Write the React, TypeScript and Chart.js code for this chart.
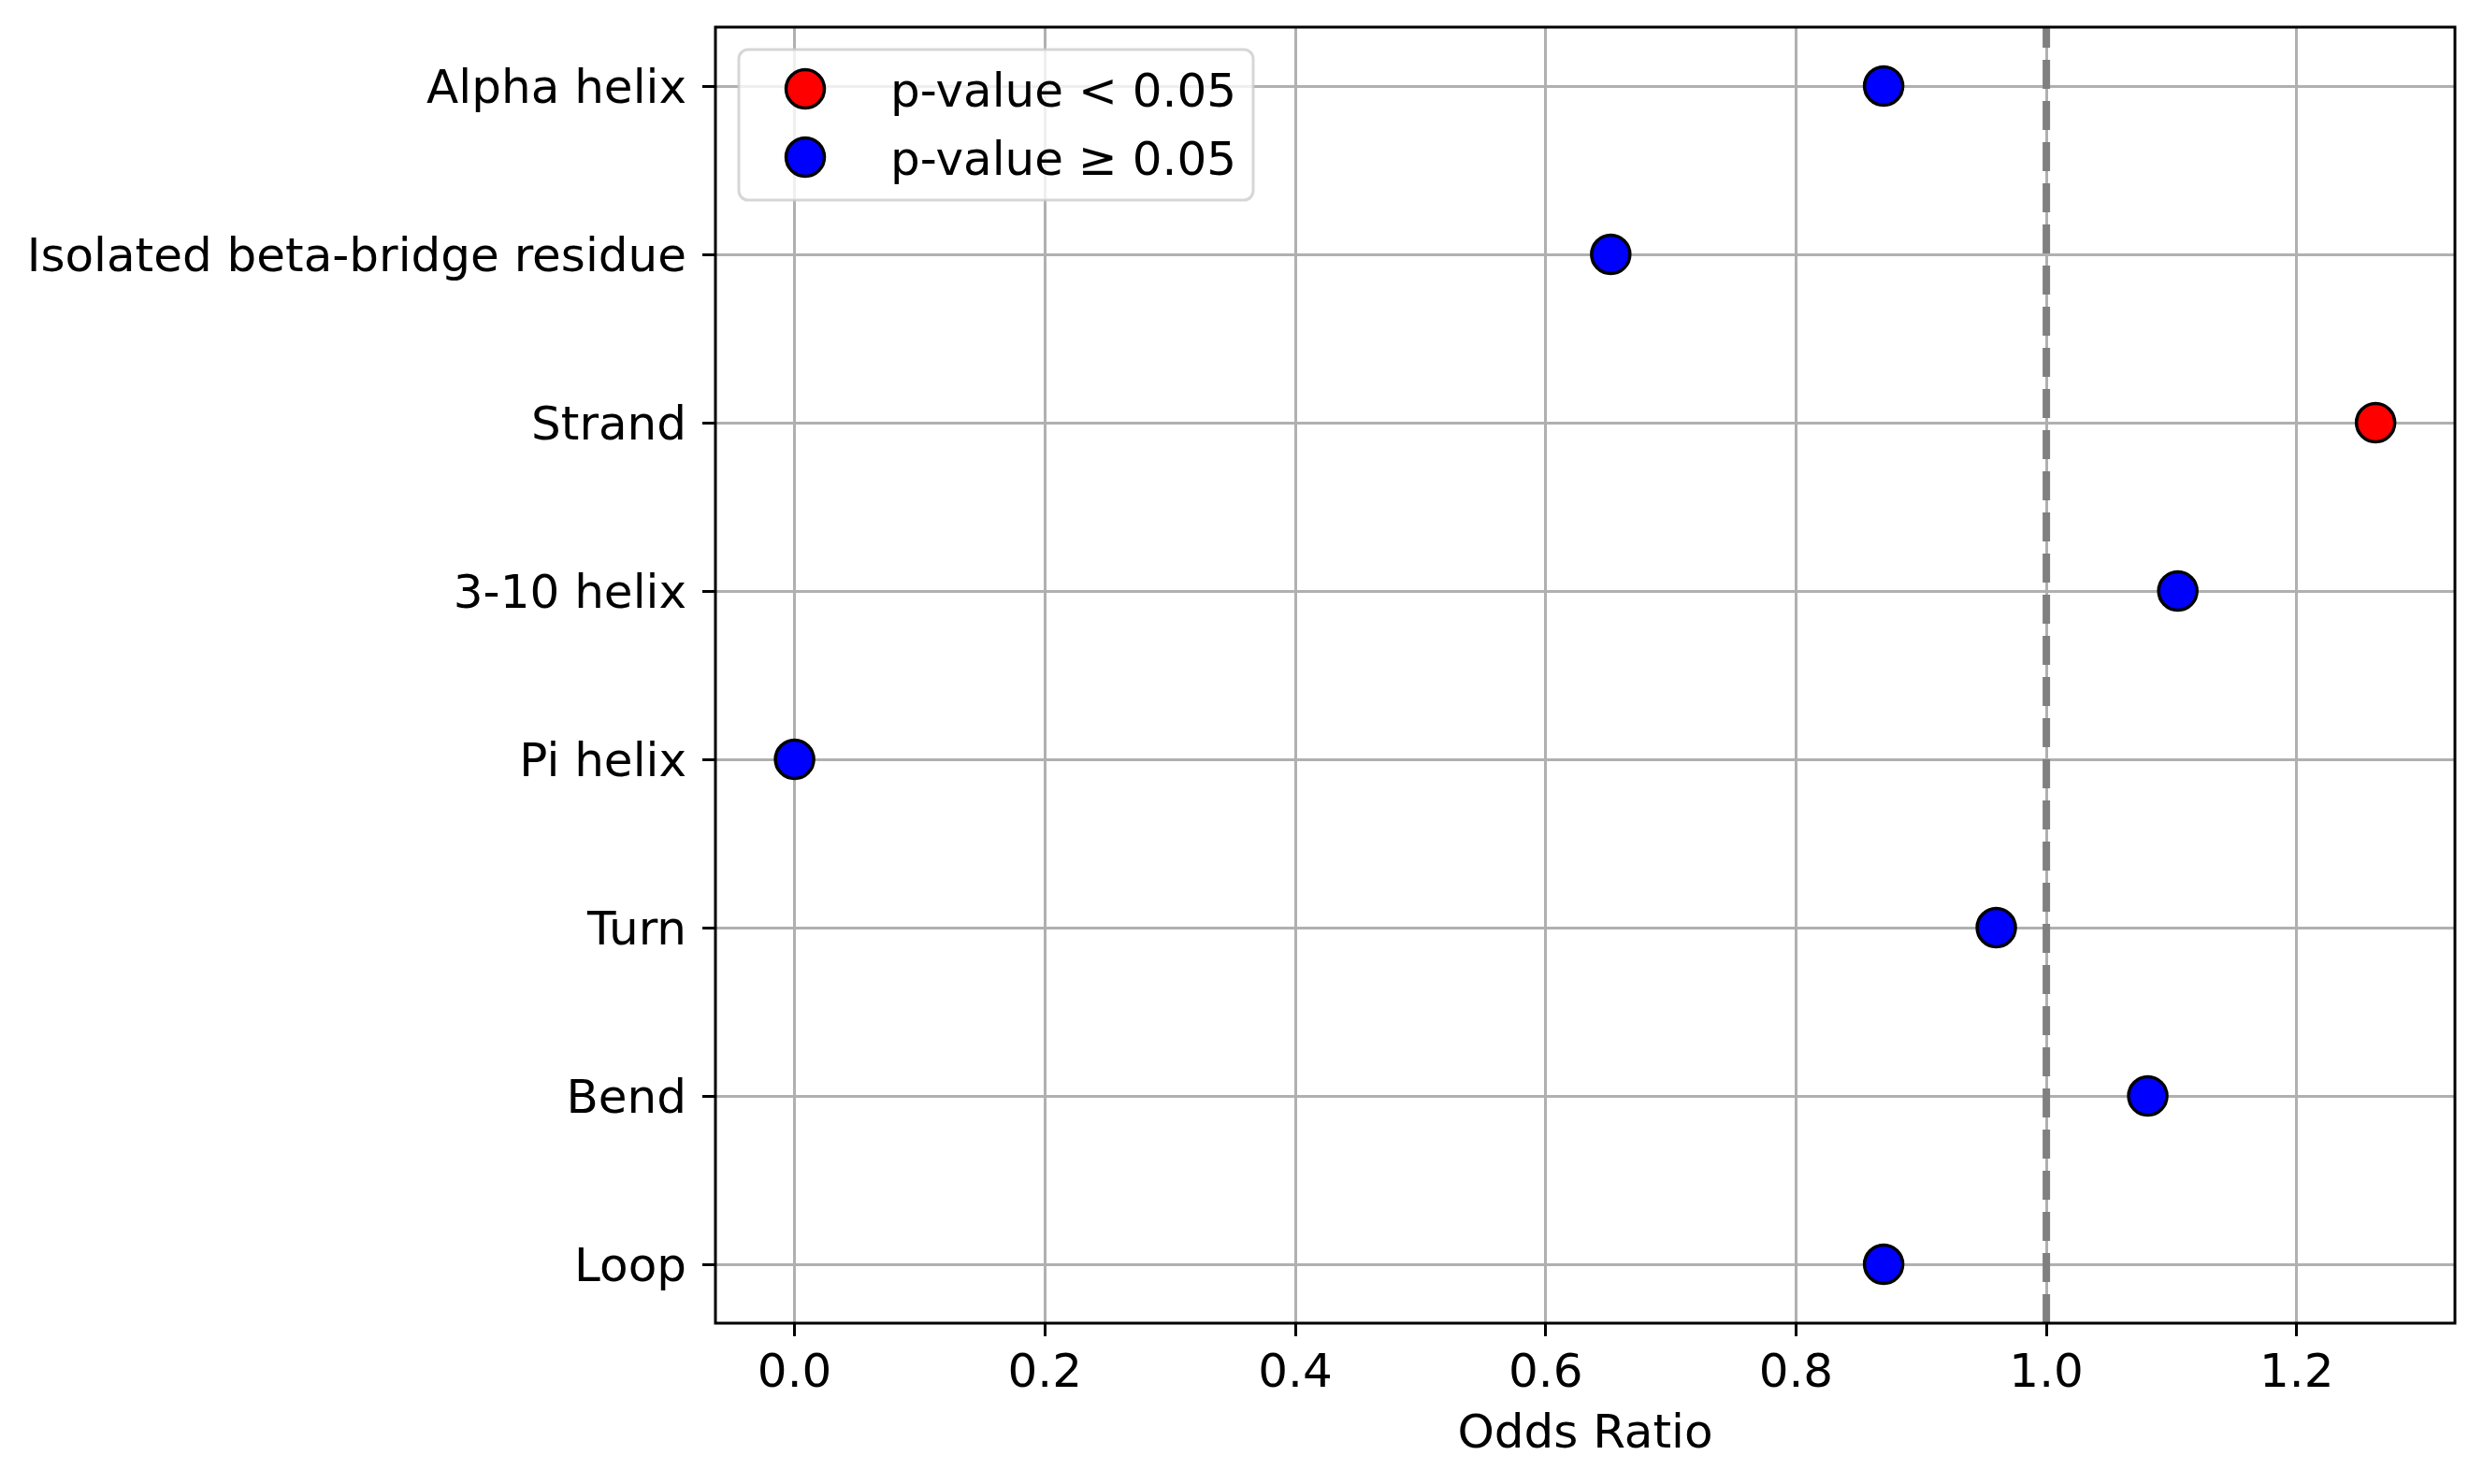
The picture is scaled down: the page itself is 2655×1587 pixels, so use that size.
import React, { useEffect, useRef } from "react";
import { Chart, registerables } from "chart.js";

Chart.register(...registerables);

// ---- data ----
const categories = [
  "Alpha helix",
  "Isolated beta-bridge residue",
  "Strand",
  "3-10 helix",
  "Pi helix",
  "Turn",
  "Bend",
  "Loop",
];
const oddsRatios = [0.870, 0.652, 1.263, 1.105, 0.0, 0.960, 1.081, 0.870];
const significant = [false, false, true, false, false, false, false, false];
const xTicks = [0, 0.2, 0.4, 0.6, 0.8, 1.0, 1.2];
const refValue = 1.0;
const legendLabels = ["p-value < 0.05", "p-value \u2265 0.05"];
const axisTitle = "Odds Ratio";

const X_MIN = -0.0632;
const X_MAX = 1.3264;
const Y_MIN = -0.35;
const Y_MAX = 7.35;

const FONT = "DejaVu Sans";
const SIG_COLOR = "#ff0000";
const NS_COLOR = "#0000ff";
const POINT_R = 20.5;
const POINT_BW = 3.5;

const framePlugin = {
  id: "frameAndLegend",
  afterDraw(chart: any) {
    const { ctx, chartArea: a } = chart;
    ctx.save();
    // spines
    ctx.strokeStyle = "#000";
    ctx.lineWidth = 3;
    ctx.strokeRect(a.left, a.top, a.right - a.left, a.bottom - a.top);

    // legend
    const lx = a.left + 25;
    const ly = a.top + 24;
    const lw = 550;
    const lh = 161;
    const r = 10;
    ctx.beginPath();
    ctx.moveTo(lx + r, ly);
    ctx.lineTo(lx + lw - r, ly);
    ctx.arcTo(lx + lw, ly, lx + lw, ly + r, r);
    ctx.lineTo(lx + lw, ly + lh - r);
    ctx.arcTo(lx + lw, ly + lh, lx + lw - r, ly + lh, r);
    ctx.lineTo(lx + r, ly + lh);
    ctx.arcTo(lx, ly + lh, lx, ly + lh - r, r);
    ctx.lineTo(lx, ly + r);
    ctx.arcTo(lx, ly, lx + r, ly, r);
    ctx.closePath();
    ctx.fillStyle = "rgba(255,255,255,0.8)";
    ctx.fill();
    ctx.strokeStyle = "rgba(204,204,204,0.8)";
    ctx.lineWidth = 3;
    ctx.stroke();

    const colors = [SIG_COLOR, NS_COLOR];
    const rowY = [ly + 42, ly + 115];
    legendLabels.forEach((label, i) => {
      ctx.beginPath();
      ctx.arc(lx + 71, rowY[i], POINT_R, 0, Math.PI * 2);
      ctx.fillStyle = colors[i];
      ctx.fill();
      ctx.lineWidth = POINT_BW;
      ctx.strokeStyle = "#000";
      ctx.stroke();
      ctx.fillStyle = "#000";
      ctx.font = `50px "${FONT}"`;
      ctx.textBaseline = "middle";
      ctx.textAlign = "left";
      ctx.fillText(label, lx + 162, rowY[i] + 6);
    });
    ctx.restore();
  },
};

export default function App() {
  const ref = useRef<HTMLCanvasElement | null>(null);

  useEffect(() => {
    if (!ref.current) return;
    const sigData = oddsRatios
      .map((v, i) => (significant[i] ? { x: v, y: i } : null))
      .filter(Boolean);
    const nsData = oddsRatios
      .map((v, i) => (!significant[i] ? { x: v, y: i } : null))
      .filter(Boolean);

    const pointStyle = {
      pointRadius: POINT_R,
      pointHoverRadius: POINT_R,
      pointBorderColor: "#000",
      pointBorderWidth: POINT_BW,
      showLine: false,
    };

    const chart = new Chart(ref.current, {
      type: "scatter",
      data: {
        datasets: [
          {
            type: "line",
            label: "ref",
            data: [
              { x: refValue, y: Y_MAX },
              { x: refValue, y: Y_MIN },
            ],
            borderColor: "#808080",
            borderWidth: 8,
            borderDash: [31, 13],
            pointRadius: 0,
            showLine: true,
            fill: false,
          } as any,
          {
            label: legendLabels[0],
            data: sigData as any,
            pointBackgroundColor: SIG_COLOR,
            backgroundColor: SIG_COLOR,
            ...pointStyle,
          },
          {
            label: legendLabels[1],
            data: nsData as any,
            pointBackgroundColor: NS_COLOR,
            backgroundColor: NS_COLOR,
            ...pointStyle,
          },
        ],
      },
      options: {
        animation: false,
        responsive: false,
        devicePixelRatio: 1,
        events: [],
        layout: { padding: { top: 29, right: 30, left: 0, bottom: 0 } },
        plugins: {
          legend: { display: false },
          tooltip: { enabled: false },
        },
        scales: {
          x: {
            type: "linear",
            min: X_MIN,
            max: X_MAX,
            afterBuildTicks: (s: any) => {
              s.ticks = xTicks.map((v) => ({ value: v }));
            },
            afterFit: (s: any) => {
              s.height = 172;
              s.paddingLeft = 0;
              s.paddingRight = 0;
            },
            ticks: {
              callback: (v: any) => Number(v).toFixed(1),
              font: { family: FONT, size: 50 },
              color: "#000",
              padding: 11,
              autoSkip: false,
              maxRotation: 0,
              minRotation: 0,
            },
            grid: {
              color: "#b0b0b0",
              lineWidth: 3,
              tickColor: "#000",
              tickLength: 14,
              tickWidth: 3,
            },
            border: { display: false },
            title: {
              display: true,
              text: axisTitle,
              color: "#000",
              font: { family: FONT, size: 50 },
              padding: { top: 0, bottom: 22 },
            },
          },
          y: {
            type: "linear",
            reverse: true,
            min: Y_MIN,
            max: Y_MAX,
            afterBuildTicks: (s: any) => {
              s.ticks = categories.map((_, i) => ({ value: i }));
            },
            afterFit: (s: any) => {
              s.width = 765;
              s.paddingTop = 0;
              s.paddingBottom = 0;
            },
            ticks: {
              callback: (v: any) => categories[Math.round(Number(v))] ?? "",
              font: { family: FONT, size: 50 },
              color: "#000",
              padding: 17,
              labelOffset: 5.5,
              autoSkip: false,
            },
            grid: {
              color: "#b0b0b0",
              lineWidth: 3,
              tickColor: "#000",
              tickLength: 14,
              tickWidth: 3,
            },
            border: { display: false },
          },
        },
      } as any,
      plugins: [framePlugin],
    });
    return () => chart.destroy();
  }, []);

  return (
    <div style={{ position: "fixed", left: 0, top: 0, width: 2655, height: 1587, background: "#fff" }}>
      <canvas ref={ref} width={2655} height={1587} style={{ width: 2655, height: 1587, display: "block" }} />
    </div>
  );
}
